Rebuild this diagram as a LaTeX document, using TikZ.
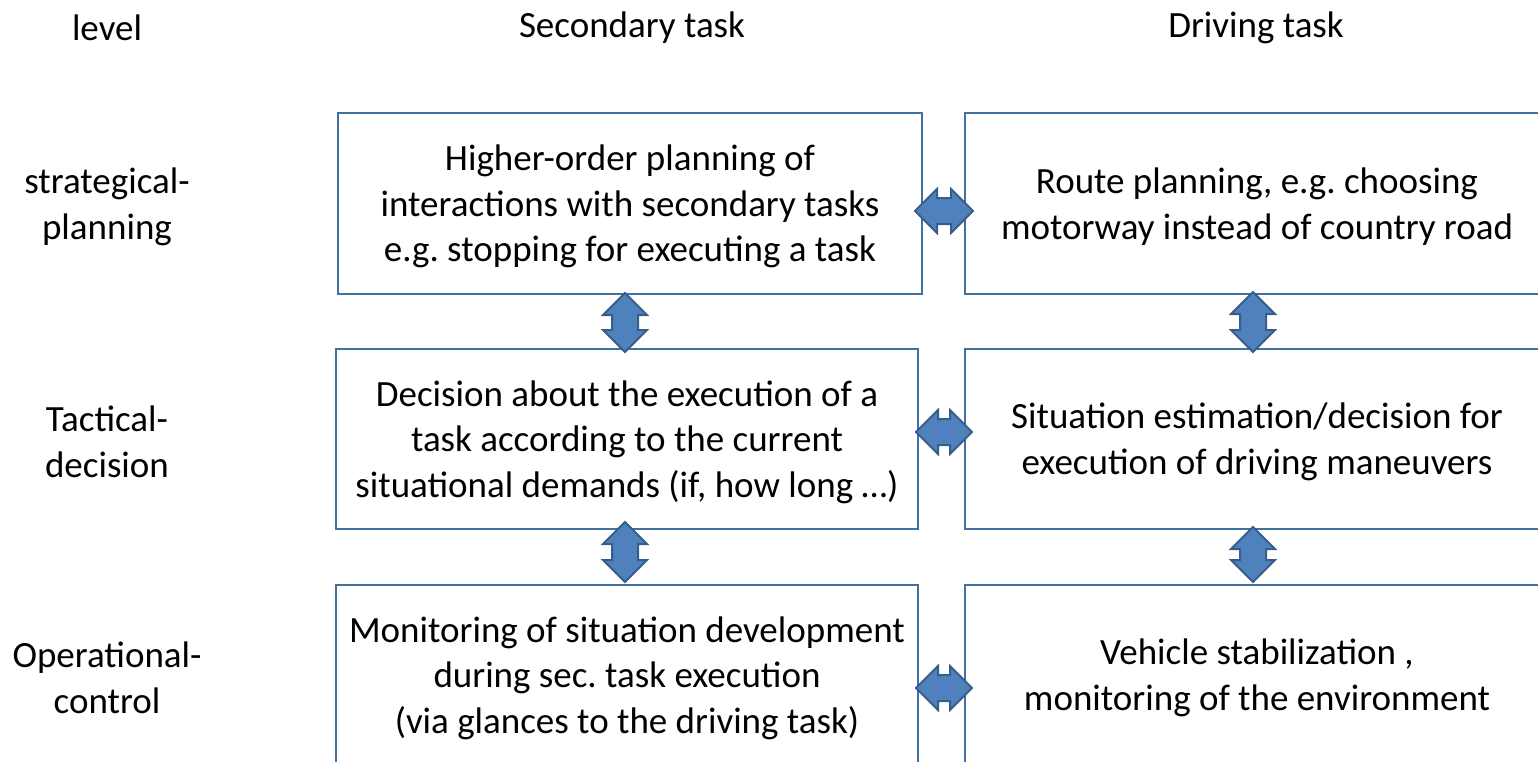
\documentclass[tikz,border=0pt]{standalone}
\usepackage{fontspec}
\setmainfont{Carlito}
\usetikzlibrary{shapes.arrows}
\definecolor{boxline}{HTML}{41719C}
\definecolor{arrowfill}{HTML}{4F81BD}
\definecolor{arrowline}{HTML}{385D8A}
\frenchspacing
% box text, set slightly below the box centre
\newcommand{\boxtext}[2]{\raisebox{-3pt}[\height][\depth]{\parbox{#1}{\centering #2}}}
\begin{document}
\begin{tikzpicture}[x=1pt,y=-1pt,
  txt/.style={font=\fontsize{37}{45.5}\selectfont, align=center, inner sep=0pt},
  taskbox/.style={txt, draw=boxline, line width=2pt, minimum width=584pt, minimum height=181pt},
  dblarrow/.style={double arrow, draw=arrowline, fill=arrowfill, line width=2pt,
    minimum height=58pt, minimum width=0pt, inner sep=12pt, double arrow head extend=9pt},
  harrow/.style={dblarrow},
  varrow/.style={dblarrow, shape border rotate=90}]
\clip (0,0) rectangle (1538,762);

% column and row headings
\node[txt] (hlevel) at (107,28) {level};
\node[txt] (hsec) at (632,28) {Secondary task};
\node[txt] (hdrive) at (1256,28) {Driving task};
\node[txt] (lstrat) at (107,207) {strategical-\\planning};
\node[txt] (ltact) at (107,442) {Tactical-\\decision};
\node[txt] (loper) at (107,678) {Operational-\\control};

% task boxes
\node[taskbox] (s1) at (630,203.5) {\boxtext{584pt}{Higher-order planning of\\interactions with secondary tasks\\e.g. stopping for executing a task}};
\node[taskbox] (d1) at (1257,203.5) {\boxtext{584pt}{Route planning, e.g. choosing\\motorway instead of country road}};
\node[taskbox, minimum width=582pt, minimum height=180pt] (s2) at (627,439) {\boxtext{582pt}{Decision about the execution of a\\task according to the current\\situational demands (if, how long …)}};
\node[taskbox, minimum height=180pt] (d2) at (1257,439) {\boxtext{584pt}{Situation estimation/decision for\\execution of driving maneuvers}};
\node[taskbox, minimum width=582pt, minimum height=180pt] (s3) at (627,675) {\boxtext{582pt}{Monitoring of situation development\\during sec. task execution\\(via glances to the driving task)}};
\node[taskbox, minimum height=180pt] (d3) at (1257,675) {\boxtext{584pt}{Vehicle stabilization ,\\monitoring of the environment}};

% interactions between levels and tasks
\node[harrow] (a1) at (944,211) {};
\node[harrow, minimum height=56pt] (a2) at (944,432) {};
\node[harrow, minimum height=56pt] (a3) at (944,688) {};
\node[varrow, minimum height=59pt] (v1) at (625,322.5) {};
\node[varrow, minimum height=60pt] (v2) at (625,552) {};
\node[varrow, minimum height=60pt] (v3) at (1253,322) {};
\node[varrow, minimum height=55pt] (v4) at (1253,554.5) {};
\end{tikzpicture}
\end{document}
